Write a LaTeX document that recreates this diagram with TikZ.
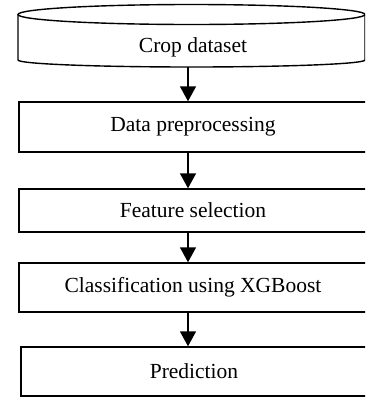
\documentclass[tikz,border=0pt]{standalone}
\usepackage{fontspec}
\setmainfont{Liberation Serif}
\usetikzlibrary{arrows.meta}
\begin{document}
\begin{tikzpicture}[x=1pt,y=-1pt,
  every node/.style={font=\fontsize{21.5}{25}\selectfont},
  stepbox/.style={draw, line width=1.4pt, rectangle, minimum width=348pt, inner sep=0pt},
  arr/.style={line width=1.4pt, -{Triangle[length=15pt,width=16pt]}},
  cyl/.style={line width=1.4pt}]
\useasboundingbox (0,0) rectangle (365,397);
\clip (0,0) rectangle (365,397);
% cylinder
\draw[cyl] (191.5,14.5) ellipse [x radius=173.5, y radius=10];
\draw[cyl] (18,14.5) -- (18,60) arc[start angle=180, end angle=0, x radius=173.5, y radius=7] -- (365,14.5);
\node (crop) at (191.5,40.5) [minimum width=347pt, minimum height=53pt, inner sep=0pt] {};
\node (croplabel) at (193,47) {Crop dataset};
\node (prep) at (193,127) [stepbox, minimum height=50pt] {Data preprocessing};
\node (feat) at (193,210.5) [stepbox, minimum height=43pt] {Feature selection};
\node (xgb) at (193,287.5) [stepbox, minimum height=49pt] {Classification using XGBoost};
\node (pred) at (194,371.5) [stepbox, minimum width=346pt, minimum height=49pt] {Prediction};
\coordinate (ax) at (188,0);
\draw[arr] (crop.south -| ax) -- (prep.north -| ax);
\draw[arr] (prep.south -| ax) -- (feat.north -| ax);
\draw[arr] (feat.south -| ax) -- (xgb.north -| ax);
\draw[arr] (xgb.south -| ax) -- (pred.north -| ax);
\end{tikzpicture}
\end{document}
